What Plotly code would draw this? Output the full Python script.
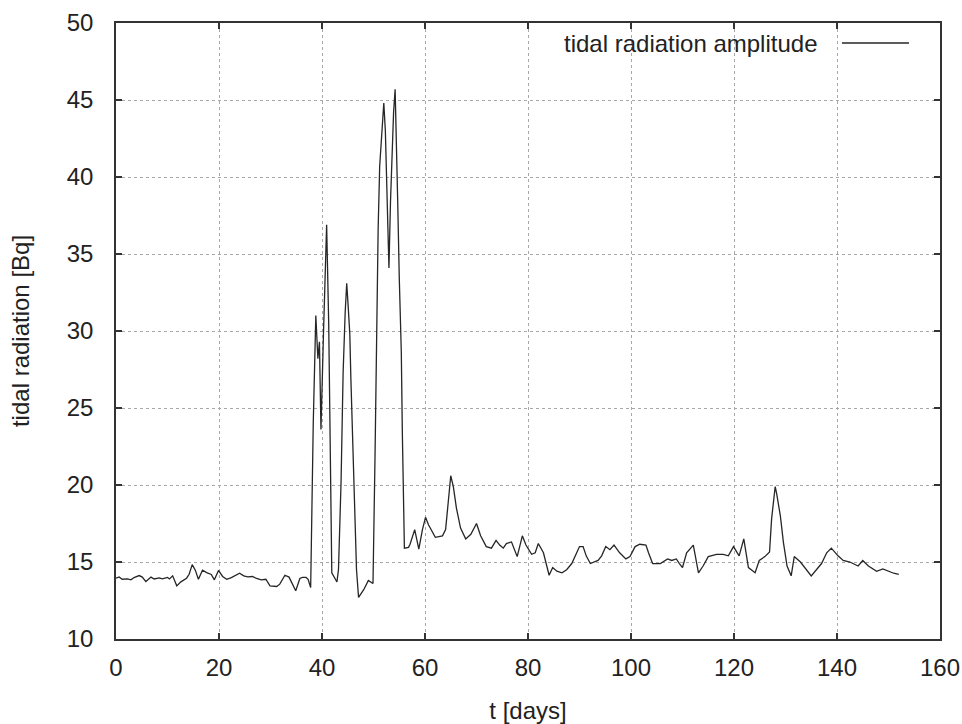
import plotly.graph_objects as go

t_days = [
    0.0, 0.6, 1.2, 2.2, 2.9, 3.5, 4.5, 5.1, 5.8, 6.8, 7.4, 8.4, 9.0, 10.0, 10.4, 11.0,
    11.8, 12.6, 13.7, 14.2, 14.8, 15.4, 16.0, 16.8, 17.6, 18.5, 19.1, 19.9, 20.7, 21.5,
    22.4, 23.4, 24.0, 24.8, 25.6, 26.5, 27.3, 28.2, 29.1, 29.9, 31.2, 31.8, 32.8, 33.6,
    34.3, 34.9, 35.7, 36.2, 36.9, 37.3, 37.8, 38.3, 38.8, 39.2, 39.5, 39.8, 40.3, 40.6,
    40.9, 41.3, 41.6, 41.9, 42.9, 43.2, 43.7, 44.1, 44.5, 44.8, 45.1, 45.4, 45.6, 46.1,
    46.7, 47.1, 48.1, 49.0, 49.9, 50.3, 50.6, 50.9, 51.2, 51.5, 51.8, 52.0, 52.3, 52.6,
    52.8, 53.0, 53.3, 53.6, 53.9, 54.2, 54.4, 54.7, 55.0, 55.4, 55.6, 55.8, 56.0, 56.8,
    57.1, 58.0, 58.8, 59.5, 60.1, 60.7, 62.0, 63.4, 64.0, 64.5, 65.0, 65.5, 66.1, 66.9,
    67.9, 68.9, 70.0, 70.8, 71.9, 72.9, 73.8, 74.5, 75.2, 75.8, 76.8, 77.9, 78.9, 79.6,
    80.7, 81.4, 82.0, 83.0, 84.1, 84.8, 85.6, 86.6, 87.5, 88.5, 89.5, 90.0, 90.7, 91.3,
    92.1, 93.6, 94.3, 95.1, 95.9, 96.7, 97.8, 99.0, 99.8, 100.8, 101.7, 102.9, 103.4,
    104.2, 105.7, 107.1, 107.9, 108.8, 109.4, 110.0, 110.8, 112.1, 113.1, 114.0, 115.0,
    116.6, 117.9, 118.9, 119.9, 121.0, 121.9, 122.8, 124.1, 124.9, 126.0, 126.9, 127.3,
    128.0, 128.3, 129.0, 129.6, 130.3, 131.1, 131.7, 132.9, 135.0, 137.0, 138.0, 138.9,
    140.2, 141.2, 142.5, 144.1, 145.0, 146.1, 147.7, 148.9, 150.0, 151.0, 152.0,
]

radiation_bq = [
    13.95, 14.03, 13.88, 13.9, 13.84, 13.99, 14.12, 14.02, 13.73, 14.02, 13.9, 13.97, 13.9, 14.0, 13.9, 14.1,
    13.45, 13.71, 13.95, 14.2, 14.83, 14.47, 13.88, 14.47, 14.31, 14.19, 13.84, 14.45, 14.06, 13.88,
    13.99, 14.2, 14.27, 14.1, 14.03, 14.06, 13.93, 13.84, 13.88, 13.45, 13.41, 13.56, 14.14, 14.02,
    13.58, 13.13, 13.93, 14.0, 14.0, 13.88, 13.34, 24.0, 31.0, 28.2, 29.3, 23.6, 30.0, 34.5,
    36.9, 30.5, 22.0, 14.3, 13.7, 14.5, 20.2, 27.3, 31.2, 33.1, 31.5, 29.8, 27.0, 21.6,
    14.5, 12.7, 13.2, 13.8, 13.6, 22.0, 30.0, 36.6, 40.7, 42.4, 43.9, 44.8, 43.0, 39.5,
    35.8, 34.1, 38.4, 41.3, 44.2, 45.7, 43.2, 38.4, 33.5, 28.6, 23.4, 18.4, 15.9, 15.95,
    16.15, 17.1, 15.83, 17.1, 17.9, 17.4, 16.6, 16.7, 17.1, 18.85, 20.6, 19.9, 18.5, 17.2,
    16.5, 16.8, 17.5, 16.7, 16.0, 15.9, 16.4, 16.1, 15.9, 16.2, 16.3, 15.35, 16.7, 16.1,
    15.5, 15.6, 16.2, 15.6, 14.14, 14.64, 14.4, 14.3, 14.5, 14.9, 15.7, 16.0, 16.0, 15.4,
    14.9, 15.1, 15.4, 16.0, 15.8, 16.1, 15.6, 15.2, 15.35, 16.0, 16.15, 16.1, 15.6,
    14.9, 14.9, 15.2, 15.1, 15.2, 14.9, 14.64, 15.6, 16.1, 14.3, 14.74, 15.35,
    15.5, 15.5, 15.4, 16.0, 15.4, 16.5, 14.64, 14.3, 15.1, 15.35, 15.65, 17.8,
    19.9, 19.4, 18.0, 16.26, 14.74, 14.1, 15.35, 15.0, 14.1, 14.9, 15.6, 15.9,
    15.4, 15.1, 15.0, 14.74, 15.1, 14.74, 14.4, 14.55, 14.4, 14.27, 14.2,
]

x_ticks = [0, 20, 40, 60, 80, 100, 120, 140, 160]
y_ticks = [10, 15, 20, 25, 30, 35, 40, 45, 50]
series_name = "tidal radiation amplitude"

FONT = "Liberation Sans, Arial, sans-serif"
TXT = "#222222"
AX = "#333333"
GRID = "#a8a8a8"

fig = go.Figure()
fig.add_trace(go.Scatter(
    x=t_days, y=radiation_bq, mode="lines", name=series_name,
    line=dict(color="#262626", width=1.3), showlegend=False,
))

axis_common = dict(
    showline=True, linecolor=AX, linewidth=1.5, mirror="ticks",
    ticks="inside", ticklen=6, tickwidth=1.5, tickcolor=AX,
    showgrid=True, gridcolor=GRID, griddash="dot", gridwidth=1,
    zeroline=False, tickfont=dict(family=FONT, size=24, color=TXT),
    automargin=False, ticklabeloverflow="allow",
)

fig.update_xaxes(
    range=[0, 160], tickvals=x_ticks, ticktext=[str(v) for v in x_ticks],
    title=dict(text="t [days]", font=dict(family=FONT, size=24, color=TXT), standoff=30),
    ticklabelstandoff=6, **axis_common,
)
fig.update_yaxes(
    range=[10, 50], tickvals=y_ticks, ticktext=[str(v) for v in y_ticks],
    title=dict(text="tidal radiation [Bq]", font=dict(family=FONT, size=24, color=TXT), standoff=30),
    ticklabelstandoff=16, **axis_common,
)

# legend drawn gnuplot-style: text on the left, line sample on the right
fig.add_annotation(
    xref="paper", yref="paper", x=0.854, y=0.9675, xanchor="right", yanchor="middle",
    text=series_name, showarrow=False, font=dict(family=FONT, size=24, color=TXT),
)
fig.add_shape(
    type="line", xref="paper", yref="paper", x0=0.881, x1=0.9624, y0=0.9675, y1=0.9675,
    line=dict(color="#262626", width=1.3),
)

fig.update_layout(
    width=962, height=724,
    margin=dict(l=116, r=22, t=23, b=85),
    paper_bgcolor="white", plot_bgcolor="white",
    font=dict(family=FONT, size=24, color=TXT),
)

# remove the default 8px page margin so the figure fills the window exactly
fig.write_html(
    "out.html",
    config={"displayModeBar": False},
    post_script="document.body.style.margin='0';document.body.style.overflow='hidden';",
)
